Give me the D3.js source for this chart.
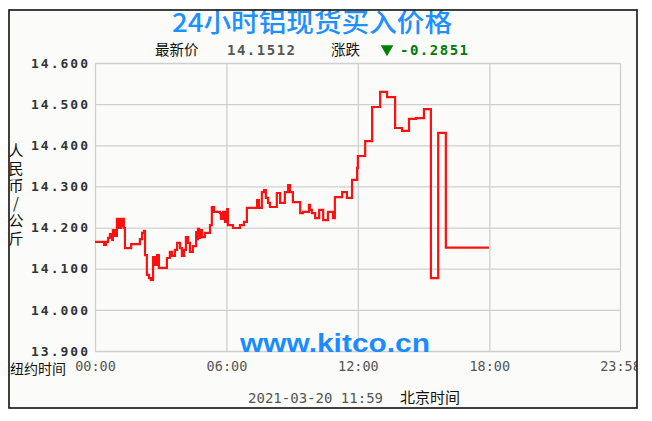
<!DOCTYPE html>
<html>
<head>
<meta charset="utf-8">
<script src="https://cdn.jsdelivr.net/npm/d3@7"></script>
<style>
  body { margin: 0; background: #fff; }
  svg { display: block; }
</style>
</head>
<body>
<svg width="652" height="421"></svg>
<script>
// minutes after 00:00 NY time, price in RMB/kg (step series)
const minutes = [0, 25, 30, 36, 41, 47, 49, 55, 60, 63, 66, 68, 71, 74, 77, 79,
  82, 99, 123, 129, 134, 137, 142, 148, 153, 159, 164, 170, 175, 197, 205, 211,
  219, 225, 233, 238, 244, 249, 255, 260, 268, 277, 279, 282, 285, 288, 293, 301,
  315, 320, 326, 342, 345, 351, 356, 362, 364, 378, 397, 408, 416, 444, 449, 457,
  463, 468, 474, 479, 498, 507, 520, 529, 534, 542, 562, 570, 586, 589, 594, 603,
  614, 625, 638, 652, 657, 677, 690, 704, 718, 720, 740, 759, 781, 800, 822, 841,
  860, 879, 901, 920, 940, 961, 1079];
const prices = [14.165, 14.158, 14.165, 14.175, 14.184, 14.170, 14.194, 14.180, 14.221, 14.199, 14.221, 14.199, 14.221, 14.203, 14.221, 14.199,
  14.150, 14.160, 14.172, 14.187, 14.192, 14.133, 14.085, 14.077, 14.073, 14.128, 14.109, 14.133, 14.102, 14.126, 14.141, 14.131,
  14.146, 14.163, 14.150, 14.131, 14.146, 14.177, 14.163, 14.141, 14.155, 14.189, 14.172, 14.197, 14.175, 14.194, 14.177, 14.187,
  14.206, 14.250, 14.238, 14.235, 14.221, 14.238, 14.214, 14.245, 14.206, 14.199, 14.206, 14.214, 14.248, 14.267, 14.248, 14.286,
  14.291, 14.272, 14.260, 14.250, 14.284, 14.260, 14.286, 14.303, 14.286, 14.262, 14.235, 14.238, 14.255, 14.243, 14.235, 14.223,
  14.243, 14.218, 14.238, 14.223, 14.274, 14.286, 14.272, 14.316, 14.345, 14.374, 14.410, 14.493, 14.530, 14.517, 14.442, 14.435,
  14.464, 14.466, 14.488, 14.077, 14.430, 14.1512, 14.1512];

const yTicks = [13.9, 14.0, 14.1, 14.2, 14.3, 14.4, 14.5, 14.6];
const xTicks = [0, 360, 720, 1080, 1438];
const xTickLabels = ["00:00", "06:00", "12:00", "18:00", "23:58"];

const svg = d3.select("svg");
const cjk = "'Noto Sans CJK SC', sans-serif";
const mono = "'DejaVu Sans Mono', monospace";

svg.append("defs").append("clipPath").attr("id", "frame")
  .append("rect").attr("x", 9).attr("y", 10).attr("width", 628).attr("height", 398);

svg.append("rect").attr("x", 9).attr("y", 10).attr("width", 628).attr("height", 398)
  .attr("fill", "#fbfcfa");

const g = svg.append("g").attr("clip-path", "url(#frame)");

const x = d3.scaleLinear().domain([0, 1438]).range([95, 620]);
const y = d3.scaleLinear().domain([13.9, 14.6]).range([351, 63]);

// y axis + horizontal grid
const yAxis = g.append("g").attr("transform", "translate(95,0)")
  .call(d3.axisLeft(y).tickValues(yTicks).tickFormat(d3.format(".3f"))
    .tickSize(-525).tickPadding(5));
yAxis.select(".domain").remove();
yAxis.selectAll("line").attr("stroke", "#cfcfcf").attr("stroke-width", 1.3);
yAxis.selectAll("text")
  .attr("fill", "#333")
  .style("font-family", mono).style("font-weight", "bold")
  .style("font-size", "13px").style("letter-spacing", "2px");

// x axis + vertical grid
const xAxis = g.append("g").attr("transform", "translate(0,351)")
  .call(d3.axisBottom(x).tickValues(xTicks).tickFormat((d, i) => xTickLabels[i])
    .tickSize(-288).tickPadding(10));
xAxis.select(".domain").remove();
xAxis.selectAll("line").attr("stroke", "#cfcfcf").attr("stroke-width", 1.3);
xAxis.selectAll("text")
  .attr("fill", "#555")
  .style("font-family", mono).style("font-size", "13.5px");

// price line
const line = d3.line()
  .x((d, i) => x(minutes[i]))
  .y(d => y(d))
  .curve(d3.curveStepAfter);

g.append("path").datum(prices)
  .attr("fill", "none")
  .attr("stroke", "#ff1010")
  .attr("stroke-width", 2.2)
  .attr("d", line);

// watermark
g.append("text").attr("x", 335).attr("y", 352)
  .attr("text-anchor", "middle")
  .attr("textLength", 190).attr("lengthAdjust", "spacingAndGlyphs")
  .style("font-family", "'Liberation Sans', Arial, sans-serif")
  .style("font-weight", "bold").style("font-size", "25px")
  .attr("fill", "#1a8cff")
  .text("www.kitco.cn");

// title
g.append("text").attr("x", 312).attr("y", 32)
  .attr("text-anchor", "middle")
  .attr("textLength", 280).attr("lengthAdjust", "spacingAndGlyphs")
  .style("font-family", cjk).style("font-size", "26px").style("font-weight", 500)
  .attr("fill", "#1e90ff")
  .text("24小时铝现货买入价格");

// latest price line
const sub = g.append("g").attr("transform", "translate(0,55)");
sub.append("text").attr("x", 155).style("font-family", cjk).style("font-size", "14.5px")
  .attr("fill", "#111").text("最新价");
sub.append("text").attr("x", 227).attr("textLength", 68)
  .style("font-family", mono).style("font-size", "14px").style("font-weight", "bold")
  .attr("fill", "#555").text("14.1512");
sub.append("text").attr("x", 331).style("font-family", cjk).style("font-size", "14.5px")
  .attr("fill", "#111").text("涨跌");
sub.append("path")
  .attr("d", d3.symbol(d3.symbolTriangle, 70)())
  .attr("transform", "translate(387,-6) rotate(180)")
  .attr("fill", "#008000");
sub.append("text").attr("x", 400).attr("textLength", 68)
  .style("font-family", mono).style("font-size", "14px").style("font-weight", "bold")
  .attr("fill", "#007a00").text("-0.2851");

// vertical unit label
g.append("text")
  .attr("x", 16).attr("y", 143)
  .style("writing-mode", "vertical-rl").style("text-orientation", "upright")
  .style("letter-spacing", "2.5px")
  .style("font-family", cjk).style("font-size", "15px")
  .attr("fill", "#111").text("人民币/公斤");

// time zone labels
g.append("text").attr("x", 10).attr("y", 374)
  .style("font-family", cjk).style("font-size", "14px")
  .attr("fill", "#111").text("纽约时间");
g.append("text").attr("x", 248).attr("y", 403)
  .attr("textLength", 135)
  .style("font-family", mono).style("font-size", "14px")
  .attr("fill", "#555").text("2021-03-20 11:59");
g.append("text").attr("x", 400).attr("y", 403)
  .style("font-family", cjk).style("font-size", "15px")
  .attr("fill", "#111").text("北京时间");

// frame
svg.append("rect").attr("x", 9).attr("y", 10).attr("width", 628).attr("height", 398)
  .attr("fill", "none").attr("stroke", "#111").attr("stroke-width", 1.6);
</script>
</body>
</html>
